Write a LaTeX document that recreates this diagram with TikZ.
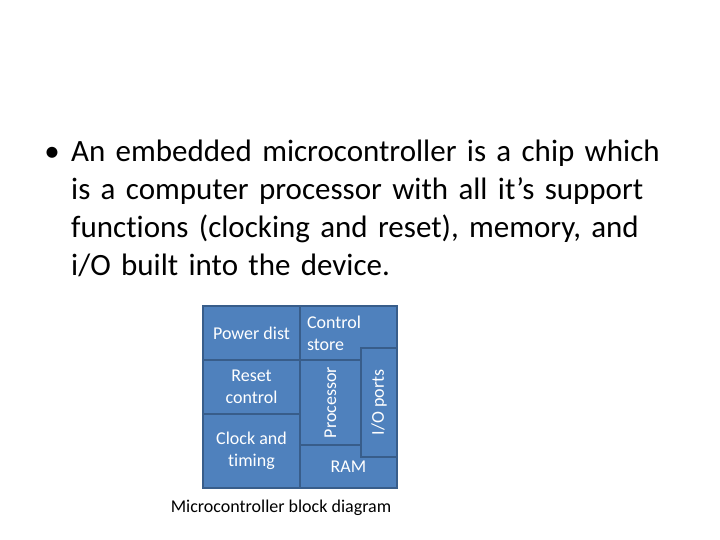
\documentclass[tikz,border=0pt]{standalone}
\usepackage{fontspec}
\setmainfont[Ligatures=NoCommon]{Carlito}
\usepackage{xcolor}
\definecolor{blkfill}{RGB}{79, 129, 189}
\definecolor{blkline}{RGB}{56, 93, 138}

\tikzset{
  block/.style={draw=blkline, fill=blkfill, line width=1.8pt, text=white,
    font=\fontsize{18}{22}\selectfont, align=center, inner sep=0pt},
}

\begin{document}
\begin{tikzpicture}[x=1pt,y=-1pt]
        \useasboundingbox[fill=white] (0,0) rectangle (720,540);

        % Bullet text
        \node[anchor=base, font=\fontsize{31}{38}\selectfont] (dot) at (52,162) {\textbullet};
        \node[anchor=base west, text width=640pt, align=left, inner sep=0pt,
              font=\fontsize{31}{38}\selectfont] (txt) at (71,162)
            {An embedded microcontroller is a chip which\\
             is a computer processor with all it’s support\\
             functions (clocking and reset), memory, and\\
             i/O built into the device.};

        % Block diagram
        \fill[blkline] (203,306) rectangle (397,488);
        \node[block, minimum width=97pt, minimum height=54pt] (pwr) at (251.5,333) {Power dist};
        \node[block, minimum width=97pt, minimum height=54pt] (rst) at (251.5,387) {Reset\\control};
        \node[block, minimum width=97pt, minimum height=74pt] (clk) at (251.5,451) {Clock and\\timing};
        \node[block, minimum width=97pt, minimum height=54pt, text width=83pt, align=left] (ctl) at (348.5,333) {Control\\store};
        \node[block, minimum width=97pt, minimum height=43pt] (ram) at (348.5,466.5) {RAM};
        \node[block, rotate=90, minimum width=85pt, minimum height=61pt] (proc) at (330.5,402.5) {Processor};
        \node[block, rotate=90, minimum width=109pt, minimum height=36pt] (io) at (379,402.5) {I/O ports};

        \node[anchor=base, font=\fontsize{18}{22}\selectfont] (cap) at (281,512) {Microcontroller block diagram};
    \end{tikzpicture}
\end{document}
